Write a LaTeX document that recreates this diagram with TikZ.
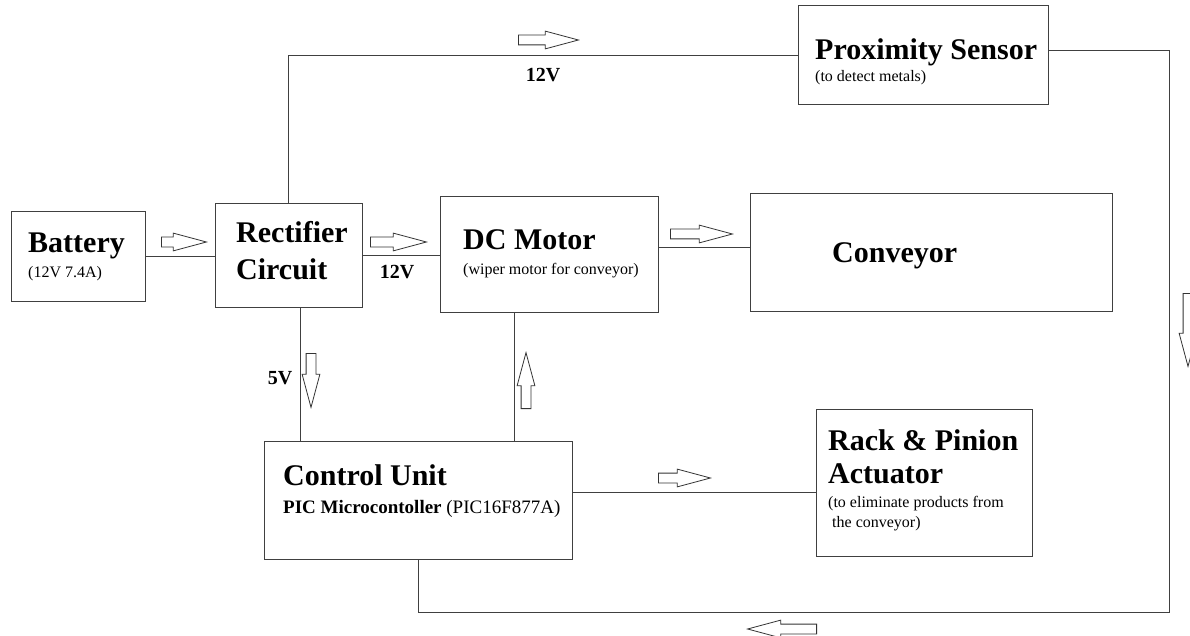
\documentclass[tikz,border=0pt]{standalone}
\usepackage{fontspec}
\setmainfont{Liberation Serif}
\usetikzlibrary{shapes.arrows, calc}

\tikzset{
  blk/.style={draw=black!75, line width=1pt, rectangle, inner sep=0pt},
  wire/.style={draw=black!75, line width=1pt},
  hollow/.style={draw=black!80, line width=0.8pt, single arrow, anchor=tail,
    single arrow head extend=4pt, single arrow tip angle=30,
    inner xsep=0pt, inner ysep=4.5pt, minimum height=#1},
  bigtxt/.style={anchor=base west, inner sep=0pt, font=\fontsize{30}{34}\selectfont\bfseries},
  smalltxt/.style={anchor=base west, inner sep=0pt, font=\fontsize{16}{19}\selectfont},
  midtxt/.style={anchor=base west, inner sep=0pt, font=\fontsize{19}{22}\selectfont},
  volt/.style={inner sep=0pt, font=\fontsize{20}{23}\selectfont\bfseries}
}

\begin{document}
\begin{tikzpicture}[x=1pt, y=-1pt]
      \useasboundingbox (0,0) rectangle (1190,636);
      \clip (0,0) rectangle (1190,636);

      \node[blk, minimum width=134pt, minimum height=89pt] (bat) at (78,256.5) {};
      \node[blk, minimum width=147pt, minimum height=103pt] (rect) at (288.5,255.5) {};
      \node[blk, minimum width=218pt, minimum height=115pt] (dc) at (549,254.5) {};
      \node[blk, minimum width=362pt, minimum height=117pt] (conv) at (931,252.5) {};
      \node[blk, minimum width=250pt, minimum height=99pt] (prox) at (923,55.5) {};
      \node[blk, minimum width=308pt, minimum height=118pt] (ctrl) at (418,500) {};
      \node[blk, minimum width=216pt, minimum height=147pt] (rack) at (924,482.5) {};

      \node[bigtxt] (batT) at (28,252) {Battery};
      \node[smalltxt] (batS) at (28,277) {(12V 7.4A)};
      \node[bigtxt] (rectA) at (236,243) {Rectifier};
      \node[bigtxt] (rectB) at (236,279) {Circuit};
      \node[bigtxt] (dcT) at (463,249) {DC Motor};
      \node[smalltxt] (dcS) at (463,274) {(wiper motor for conveyor)};
      \node[bigtxt] (convT) at (832,262) {Conveyor};
      \node[bigtxt] (proxT) at (815,60) {Proximity Sensor};
      \node[smalltxt] (proxS) at (815,82) {(to detect metals)};
      \node[bigtxt] (ctrlT) at (283,485) {Control Unit};
      \node[midtxt] (ctrlS) at (283,513) {\textbf{PIC Microcontoller} (PIC16F877A)};
      \node[bigtxt] (rackA) at (828,450) {Rack \& Pinion};
      \node[bigtxt] (rackB) at (828,483) {Actuator};
      \node[smalltxt] (rackS) at (828,507) {(to eliminate products from};
      \node[smalltxt] (rackT) at (828,527) {\hspace{4pt}the conveyor)};

      \node[volt] (vtop) at (543,75) {12V};
      \node[volt] (vmot) at (397,272) {12V};
      \node[volt] (vfive) at (280,378) {5V};

      \coordinate (r5) at ($(rect.south)+(12,0)$);
      \coordinate (d5) at ($(dc.south)+(-35,0)$);
      \coordinate (pe) at ($(prox.east)+(0,-4.5)$);
      \coordinate (ce) at ($(ctrl.east)+(0,-8)$);
      \coordinate (de) at ($(dc.east)+(0,-7)$);
      \coordinate (back) at (1169,612);

      \draw[wire] (bat.east) -- (bat.east -| rect.west);
      \draw[wire] (rect.east) -- (rect.east -| dc.west);
      \draw[wire] (de) -- (de -| conv.west);
      \draw[wire] (rect.north) |- (prox.west);
      \draw[wire] (pe) -| (back) -| (ctrl.south);
      \draw[wire] (r5) -- (r5 |- ctrl.north);
      \draw[wire] (d5) -- (d5 |- ctrl.north);
      \draw[wire] (ce) -- (ce -| rack.west);

      \node[hollow=45pt] (a1) at (161,242) {};
      \node[hollow=56pt] (a2) at (370,242) {};
      \node[hollow=60pt] (a3) at (518,40) {};
      \node[hollow=62pt] (a4) at (670,234) {};
      \node[hollow=52pt] (a5) at (658,478) {};
      \node[hollow=54pt, rotate=-90] (a6) at (311,353) {};
      \node[hollow=56pt, rotate=90] (a7) at (526,409) {};
      \node[hollow=73pt, rotate=-90] (a8) at (1188,293) {};
      \node[hollow=69pt, rotate=180] (a9) at (817,629) {};

    \end{tikzpicture}
\end{document}
